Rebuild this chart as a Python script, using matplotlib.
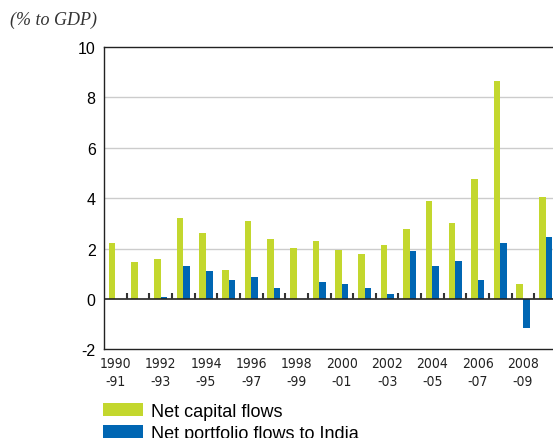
import numpy as np
import matplotlib
matplotlib.use("Agg")
import matplotlib.pyplot as plt
from matplotlib import font_manager

# data (% to GDP)
years = ['1990-91', '1991-92', '1992-93', '1993-94', '1994-95', '1995-96',
         '1996-97', '1997-98', '1998-99', '1999-00', '2000-01', '2001-02',
         '2002-03', '2003-04', '2004-05', '2005-06', '2006-07', '2007-08',
         '2008-09', '2009-10']
capital_flows = [2.22, 1.45, 1.58, 3.22, 2.63, 1.16, 3.09, 2.39, 2.03, 2.31,
                 1.93, 1.78, 2.14, 2.78, 3.88, 3.03, 4.76, 8.64, 0.59, 4.06]
portfolio_flows = [0.0, 0.0, 0.09, 1.32, 1.11, 0.74, 0.86, 0.45, 0.0, 0.67,
                   0.59, 0.44, 0.20, 1.89, 1.29, 1.49, 0.74, 2.22, -1.13, 2.45]
tick_labels = ['1990\n-91', '1992\n-93', '1994\n-95', '1996\n-97', '1998\n-99',
               '2000\n-01', '2002\n-03', '2004\n-05', '2006\n-07', '2008\n-09']

green = '#c3d72e'
blue = '#0066b3'

plt.rcParams['font.family'] = ['Liberation Sans', 'DejaVu Sans']

# look for a narrow, regular-weight face for the year labels
narrow = None
for f in font_manager.fontManager.ttflist:
    cond = 'Narrow' in f.name or 'Condensed' in f.name or f.stretch == 'condensed'
    if cond and f.weight in (400, 'normal', 'regular', 'book') and f.style == 'normal' \
            and 'Bold' not in f.fname and 'Oblique' not in f.fname:
        narrow = f
        break

fig = plt.figure(figsize=(5.53, 4.39), dpi=100)
ax = fig.add_axes([0.1881, 0.2016, 0.8192, 0.6897])

x = np.arange(len(years))
w = 0.29
ax.bar(x - w / 2, capital_flows, w, color=green, label='Net capital flows', zorder=3)
ax.bar(x + w / 2, portfolio_flows, w, color=blue, label='Net portfolio flows to India', zorder=3)

ax.set_xlim(-0.5, len(years) - 0.5)
ax.set_ylim(-2, 10)
ax.set_yticks([-2, 0, 2, 4, 6, 8, 10])
ax.set_yticklabels(['-2', '0', '2', '4', '6', '8', '10'], fontsize=11.5)
ax.tick_params(axis='y', length=0, pad=6)

# gridlines and zero line
for yv in [2, 4, 6, 8]:
    ax.axhline(yv, color='#cccccc', linewidth=1.0, zorder=1)
ax.axhline(0, color='#222222', linewidth=1.2, zorder=4)
# small separator ticks on the zero line
ax.vlines(x[:-1] + 0.5, 0, 0.24, color='#333333', linewidth=1.5, zorder=4)

ax.set_xticks(x[::2])
ax.set_xticklabels(tick_labels)
ax.tick_params(axis='x', length=0, pad=5)
for lbl in ax.get_xticklabels():
    if narrow is not None:
        lbl.set_fontproperties(font_manager.FontProperties(fname=narrow.fname, size=10))
    else:
        lbl.set_fontsize(9)
    lbl.set_linespacing(1.35)
    lbl.set_color('#222222')

for s in ['left', 'top', 'bottom']:
    ax.spines[s].set_color('#222222')
    ax.spines[s].set_linewidth(1.0)
ax.spines['right'].set_visible(False)

fig.text(10 / 553, 1 - 20 / 439, '(% to GDP)', family=['Liberation Serif', 'DejaVu Serif'],
         style='italic', fontsize=13, va='center', ha='left', color='#333333')

fig.legend(loc='upper left', bbox_to_anchor=(103 / 553, 1 - 404 / 439), frameon=False,
           fontsize=13, handlelength=2.2, handleheight=0.7, handletextpad=0.45,
           labelspacing=0.25, borderpad=0, borderaxespad=0)

fig.savefig('out.png', dpi=100)
